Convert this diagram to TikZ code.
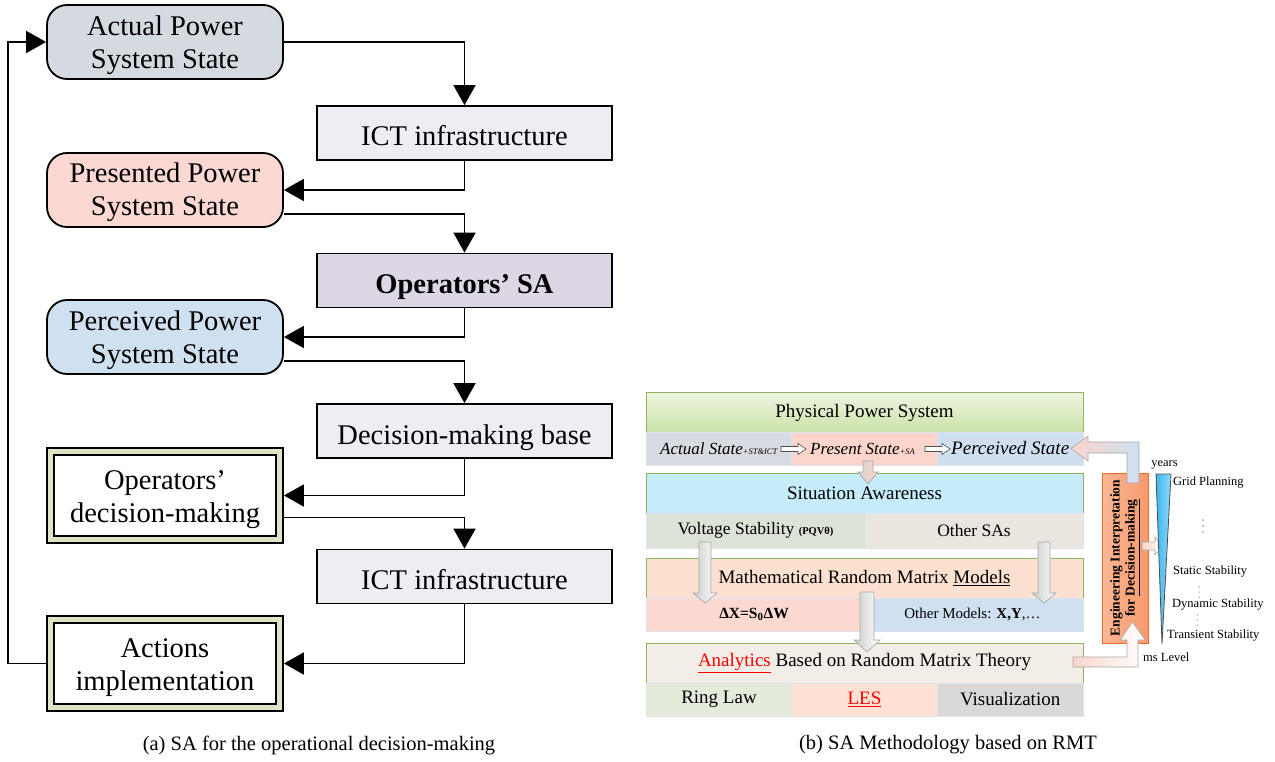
\documentclass[tikz,border=0pt]{standalone}
\usepackage{fontspec}
\setmainfont{Liberation Serif}
\usetikzlibrary{arrows.meta,calc}
\definecolor{actF}{HTML}{D5D9E0}
\definecolor{ictF}{HTML}{EFEDF3}
\definecolor{presF}{HTML}{FBD9D2}
\definecolor{opsaF}{HTML}{DCD6E5}
\definecolor{percF}{HTML}{CFE0F0}
\definecolor{dblband}{HTML}{DDE5C6}
\definecolor{rbord}{HTML}{8FB35F}
\definecolor{physT}{HTML}{EEF5E0}
\definecolor{physB}{HTML}{CBE2A8}
\definecolor{grayA}{HTML}{D9DBE3}
\definecolor{pinkA}{HTML}{FBD5CC}
\definecolor{blueA}{HTML}{CFDFF0}
\definecolor{saF}{HTML}{C6ECFB}
\definecolor{vsF}{HTML}{DCE3D6}
\definecolor{osF}{HTML}{EBE5E0}
\definecolor{mmF}{HTML}{FDE1D0}
\definecolor{dxF}{HTML}{FBD8D0}
\definecolor{omF}{HTML}{CFE0F0}
\definecolor{anF}{HTML}{F3EDE7}
\definecolor{ringF}{HTML}{E4EBDB}
\definecolor{lesF}{HTML}{FDE2D3}
\definecolor{visF}{HTML}{D9D9D9}
\definecolor{engL}{HTML}{FBB794}
\definecolor{engR}{HTML}{F79A6C}
\definecolor{engB}{HTML}{F06A30}
\definecolor{triB}{HTML}{3DB8EE}
\definecolor{triL}{HTML}{8FD8F7}
\definecolor{bandline}{HTML}{DDE4EE}
\begin{document}
\begin{tikzpicture}[x=1pt,y=-1pt,
  flow/.style={line width=1.8pt,-{Triangle[length=20pt,width=22pt]}},
  bigfont/.style={font=\fontsize{28.5}{33}\selectfont},
  sqbox/.style={draw, line width=1.8pt, fill=ictF, minimum width=295pt, minimum height=54pt, inner sep=0pt, text height=26pt, text depth=0pt, bigfont},
  rndbox/.style={draw, line width=1.8pt, rounded corners=20pt, minimum width=236pt, minimum height=74pt, inner sep=0pt},
  dblout/.style={draw, line width=1.8pt, fill=dblband, minimum width=236pt, minimum height=95pt, inner sep=0pt},
  dblin/.style={draw, line width=1.8pt, fill=white, minimum width=222pt, minimum height=81pt, inner sep=0pt},
  twoline/.style={align=center, inner sep=0pt, bigfont},
  rbar/.style={draw=rbord, line width=1pt, minimum width=437pt, minimum height=40pt, inner sep=0pt, font=\fontsize{19}{22}\selectfont},
  band/.style={draw=bandline, line width=0.8pt, minimum height=33pt, inner sep=0pt, font=\fontsize{19}{22}\selectfont},
  blk/.style={draw=gray!70, line width=0.6pt},
  lbl/.style={font=\fontsize{12.5}{14}\selectfont, inner sep=0pt},
  vdot/.style={fill=black, inner sep=0pt, minimum size=1.3pt, circle},
  rowtxt/.style={anchor=base west, inner sep=0pt, font=\fontsize{17}{20}\selectfont\itshape},
  captxt/.style={font=\fontsize{20.5}{22}\selectfont},
  hollowR/.pic={\path[draw=gray!60!black, fill=white, line width=0.6pt] (0,-2.5) -- (17,-2.5) -- (17,-5.5) -- (25,0) -- (17,5.5) -- (17,2.5) -- (0,2.5) -- cycle;}
]
\useasboundingbox (0,0) rectangle (1275,762);

% ---------- (a) ----------
\node[rndbox, fill=actF] (act) at (165,42) {};
\node[twoline] (actT) at ($(act.center)+(0,3.5)$) {Actual Power\\System State};
\node[sqbox] (ict1) at (464.5,133) {ICT infrastructure};
\node[rndbox, fill=presF] (pres) at (165,190) {};
\node[twoline] (presT) at ($(pres.center)+(0,2.5)$) {Presented Power\\System State};
\node[sqbox, fill=opsaF, font=\fontsize{28.5}{33}\selectfont\bfseries] (opsa) at (464.5,280.5) {Operators’ SA};
\node[rndbox, fill=percF] (perc) at (165,337) {};
\node[twoline] (percT) at ($(perc.center)+(0,3.5)$) {Perceived Power\\System State};
\node[sqbox] (dmb) at (464.5,431) {Decision-making base};
\node[dblout] (opdm) at (165,495.5) {};
\node[dblin] (opdmi) at (165,495.5) {};
\node[twoline] (opdmT) at ($(opdm.center)+(0,4)$) {Operators’\\decision-making};
\node[sqbox] (ict2) at (464.5,576.5) {ICT infrastructure};
\node[dblout] (acti) at (165,663.5) {};
\node[dblin] (actii) at (165,663.5) {};
\node[twoline] (actiT) at ($(acti.center)+(0,4.5)$) {Actions\\implementation};

\draw[flow] (act.east) -| (ict1.north);
\draw[flow] (ict1.south) |- (pres.east);
\draw[flow] ($(pres.east)+(0,24)$) -| (opsa.north);
\draw[flow] (opsa.south) |- (perc.east);
\draw[flow] ($(perc.east)+(0,24)$) -| (dmb.north);
\draw[flow] (dmb.south) |- (opdm.east);
\draw[flow] ($(opdm.east)+(0,22)$) -| (ict2.north);
\draw[flow] (ict2.south) |- (acti.east);
\draw[flow] (acti.west) -- ++(-38,0) |- (act.west);

% ---------- (b) ----------
\node[rbar, top color=physT, bottom color=physB] (phys) at (864.5,412.5) {Physical Power System};
\node[band, fill=grayA, minimum width=145.67pt] (b1) at (719,448.5) {};
\node[band, fill=pinkA, minimum width=145.67pt] (b2) at (864.5,448.5) {};
\node[band, fill=blueA, minimum width=145.67pt] (b3) at (1010.2,448.5) {};
\node[rowtxt] (t1) at (660,454) {Actual State{\fontsize{8.5}{9}\selectfont +ST\&ICT}};
\pic at (781,449) {hollowR};
\node[rowtxt] (t2) at (810,454) {Present State{\fontsize{8.5}{9}\selectfont +SA}};
\pic at (925,449) {hollowR};
\node[rowtxt, font=\fontsize{19}{22}\selectfont\itshape] (t3) at (951,454) {Perceived State};

\node[rbar, fill=saF] (sa) at (864.5,493) {Situation Awareness};
\node[band, fill=vsF, minimum width=219pt, minimum height=35pt, font=\fontsize{17.5}{20}\selectfont] (vs) at (755.5,530.5) {Voltage Stability {\fontsize{10.5}{11}\selectfont\bfseries (PQVθ)}};
\node[band, fill=osF, minimum width=218pt, minimum height=35pt, font=\fontsize{17.5}{20}\selectfont] (osa) at (974,530.5) {Other SAs};

\node[rbar, fill=mmF] (mm) at (864.5,578) {Mathematical Random Matrix \underline{Models}};
\node[band, fill=dxF, minimum width=216pt, font=\fontsize{15.5}{18}\selectfont] (dx) at (754,614.5) {\textbf{ΔX=S\textsubscript{0}ΔW}};
\node[band, fill=omF, minimum width=221pt, font=\fontsize{15}{18}\selectfont] (om) at (972.5,614.5) {Other Models: \textbf{X,Y},…};

\node[rbar, fill=anF] (an) at (864.5,663) {\textcolor{red}{\underline{Analytics}} Based on Random Matrix Theory};
\node[band, fill=ringF, minimum width=145.67pt] (ring) at (719,699.5) {Ring Law};
\node[band, fill=lesF, minimum width=145.67pt] (les) at (864.5,699.5) {\textcolor{red}{\underline{LES}}};
\node[band, fill=visF, minimum width=145.67pt] (vis) at (1010.2,699.5) {Visualization};

% block arrows
\path[blk, left color=gray!35, right color=pinkA] (863,461) -- (873,461) -- (873,472) -- (878,472) -- (868,484) -- (858,472) -- (863,472) -- cycle;
\path[blk, left color=gray!40, right color=white] (699,542) -- (711,542) -- (711,593) -- (717,593) -- (705,603) -- (693,593) -- (699,593) -- cycle;
\path[blk, left color=gray!40, right color=white] (1038,542) -- (1050,542) -- (1050,593) -- (1056,593) -- (1044,603) -- (1032,593) -- (1038,593) -- cycle;
\path[blk, left color=gray!40, right color=white] (860,592) -- (874,592) -- (874,640) -- (880,640) -- (867,652) -- (854,640) -- (860,640) -- cycle;

% engineering box
\node[draw=engB, line width=1pt, left color=engL, right color=engR, minimum width=46pt, minimum height=170pt, inner sep=0pt] (eng) at (1125,558) {};
\node[rotate=90, align=center, inner sep=0pt, font=\fontsize{13.5}{15}\selectfont\bfseries] (engt) at (eng.center) {Engineering Interpretation\\for \underline{Decision-making}};

\path[blk, left color=pinkA, right color=white] (1073,657) -- (1127,657) -- (1127,640) -- (1120,640) -- (1132.5,622) -- (1145,640) -- (1138,640) -- (1138,667) -- (1073,667) -- cycle;
\path[blk, left color=pinkA, right color=blueA] (1139,483) -- (1139,442) -- (1088,442) -- (1088,436) -- (1071,448.5) -- (1088,461) -- (1088,453) -- (1127,453) -- (1127,483) -- cycle;
\path[blk, left color=pinkA, right color=white] (1142,542) -- (1155,542) -- (1155,537) -- (1163,546) -- (1155,555) -- (1155,550) -- (1142,550) -- cycle;

% time-scale triangle
\path[draw=gray!60!black, line width=0.8pt, left color=triB, right color=triL] (1156,474) -- (1171,474) -- (1162,644) -- cycle;
\node[lbl] (yrs) at (1164.5,465) {years};
\node[lbl, anchor=west] (gp) at (1173,483) {Grid Planning};
\foreach \i/\yy in {a/520,b/526,c/532} \node[vdot] (da\i) at (1203,\yy) {};
\node[lbl, anchor=west] (ss) at (1173,572) {Static Stability};
\foreach \i/\yy in {a/587,b/592,c/597} \node[vdot, minimum size=1pt] (db\i) at (1199,\yy) {};
\node[lbl, anchor=west] (ds) at (1172,605) {Dynamic Stability};
\foreach \i/\yy in {a/615,b/620,c/625} \node[vdot, minimum size=1pt] (dc\i) at (1197,\yy) {};
\node[lbl, anchor=west] (ts) at (1167,636) {Transient Stability};
\node[lbl, anchor=west] (ms) at (1143,657) {ms Level};

% captions
\node[captxt] (capa) at (319,745) {(a) SA for the operational decision-making};
\node[captxt] (capb) at (948,745) {(b) SA Methodology based on RMT};
\end{tikzpicture}
\end{document}
